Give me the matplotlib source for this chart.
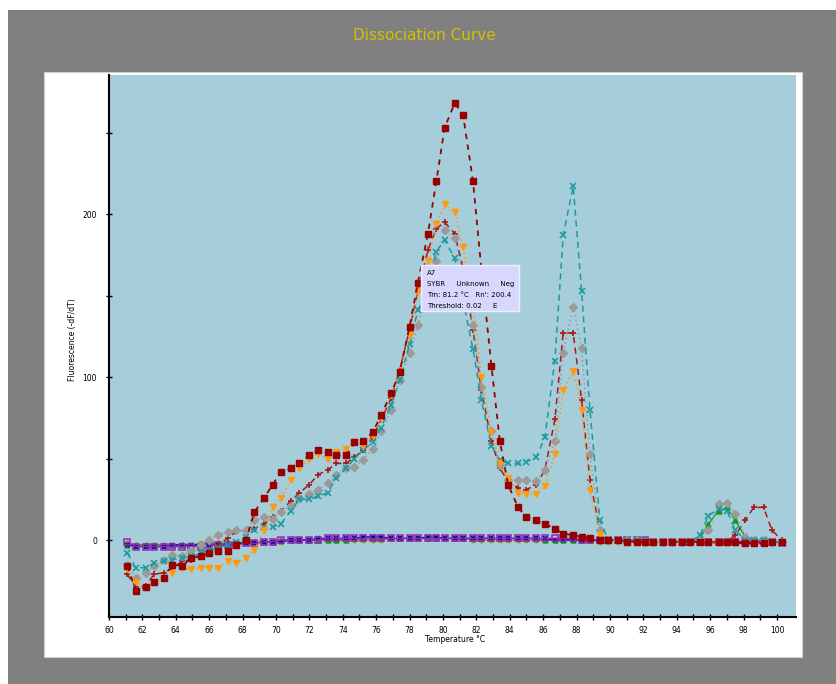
import matplotlib
matplotlib.use("Agg")
import matplotlib.pyplot as plt
from matplotlib.patches import Rectangle

# melt temperatures (deg C), one reading per step
temps = [61.1, 61.6, 62.2, 62.7, 63.3, 63.8, 64.4, 64.9, 65.5, 66.0,
         66.5, 67.1, 67.6, 68.2, 68.7, 69.3, 69.8, 70.3, 70.9, 71.4,
         72.0, 72.5, 73.1, 73.6, 74.2, 74.7, 75.2, 75.8, 76.3, 76.9,
         77.4, 78.0, 78.5, 79.1, 79.6, 80.1, 80.7, 81.2, 81.8, 82.3,
         82.9, 83.4, 83.9, 84.5, 85.0, 85.6, 86.1, 86.7, 87.2, 87.8,
         88.3, 88.8, 89.4, 89.9, 90.5, 91.0, 91.6, 92.1, 92.6, 93.2,
         93.7, 94.3, 94.8, 95.4, 95.9, 96.5, 97.0, 97.5, 98.1, 98.6,
         99.2, 99.7, 100.3]

well_a = [-16, -31, -29, -26, -23, -15, -16, -11, -10, -8,
          -7, -7, -3, 0, 17, 26, 34, 42, 44, 47,
          52, 55, 54, 52, 52, 60, 61, 66, 77, 90,
          103, 131, 158, 188, 220, 253, 268, 261, 220, 166,
          107, 61, 34, 20, 14, 12, 10, 7, 4, 3,
          2, 1, 0, 0, 0, -1, -1, -1, -1, -1,
          -1, -1, -1, -1, -1, -1, -1, -1, -2, -2,
          -2, -1, -1]

well_b = [-18, -26, -29, -26, -23, -20, -17, -18, -17, -17,
          -17, -13, -14, -11, -6, 6, 20, 26, 37, 44,
          50, 53, 50, 54, 56, 60, 58, 64, 75, 89,
          103, 126, 153, 171, 194, 206, 201, 180, 147, 100,
          66, 47, 38, 29, 28, 28, 33, 53, 92, 104,
          80, 31, 3, 0, -1, -1, -1, -1, -1, -1,
          -1, -1, -1, -1, -1, -1, -1, -2, -2, -2,
          -2, -1, -1]

well_c = [-15, -23, -20, -16, -12, -9, -10, -6, -3, 0,
          3, 5, 6, 6, 12, 14, 13, 17, 21, 26,
          28, 31, 35, 40, 44, 45, 49, 56, 67, 80,
          98, 115, 132, 153, 171, 190, 185, 163, 132, 94,
          67, 46, 37, 37, 37, 36, 43, 61, 115, 143,
          118, 53, 6, 0, 0, 0, 0, -1, -1, -1,
          -1, -1, -1, 0, 6, 22, 23, 16, 2, 0,
          0, -1, -1]

well_d = [-8, -17, -17, -14, -13, -12, -11, -10, -8, -6,
          -5, -3, -1, 2, 6, 8, 8, 10, 18, 25,
          25, 27, 29, 38, 44, 50, 55, 60, 69, 83,
          98, 120, 141, 156, 177, 184, 173, 147, 117, 86,
          58, 49, 47, 47, 48, 51, 63, 110, 187, 217,
          153, 80, 12, 0, 0, 0, 0, 0, -1, -1,
          -1, -1, -1, 3, 15, 19, 18, 6, 0, 0,
          0, -1, -1]

well_e = [-21, -29, -28, -21, -20, -17, -13, -12, -9, -6,
          -3, 1, 5, 6, 7, 10, 14, 18, 24, 29,
          34, 40, 43, 47, 47, 51, 55, 63, 74, 87,
          104, 129, 153, 178, 191, 195, 188, 167, 129, 92,
          61, 44, 36, 32, 31, 34, 43, 74, 127, 127,
          86, 37, 6, 0, 0, 0, 0, -1, -1, -1,
          -1, -1, -1, -1, -1, -1, -1, 3, 12, 20,
          20, 6, 0]

# negative / no template wells, flat along the baseline
well_p = [-1, -4, -4, -4, -4, -4, -4, -4, -4, -3,
          -3, -3, -3, -2, -2, -1, -1, 0, 0, 0,
          0, 0, 1, 1, 1, 1, 1, 1, 1, 1,
          1, 1, 1, 1, 1, 1, 1, 1, 1, 1,
          1, 1, 1, 1, 1, 1, 1, 1, 1, 1,
          0, 0, 0, 0, 0, 0, 0, 0, -1, -1,
          -1, -1, -1, -1, -1, -1, -1, -1, -1, -1,
          -1, -1, -2]

well_n = [-3, -4, -4, -4, -4, -3, -3, -3, -3, -3,
          -3, -3, -2, -2, -2, -1, -1, -1, 0, 0,
          0, 1, 1, 1, 1, 1, 2, 2, 2, 1,
          1, 1, 1, 2, 2, 1, 1, 1, 1, 1,
          1, 1, 1, 1, 1, 1, 1, 0, 0, 0,
          0, 0, 0, 0, 0, 0, -1, -1, -1, -1,
          -1, -1, -1, -1, -1, -1, -2, -2, -2, -1,
          -1, -1, -1]

well_g = [-3, -3, -3, -3, -3, -3, -3, -3, -3, -2,
          -2, -2, -2, -1, -1, -1, -1, 0, 0, 0,
          0, 0, 0, 0, 0, 1, 1, 1, 1, 1,
          1, 1, 1, 1, 1, 1, 1, 1, 1, 1,
          1, 1, 1, 1, 1, 1, 0, 0, 0, 0,
          0, 0, 0, 0, 0, 0, 0, -1, -1, -1,
          -1, -1, -1, 1, 10, 18, 20, 12, 2, 0,
          -1, -1, -1]

well_o = [-2, -3, -3, -3, -3, -3, -3, -3, -2, -2,
          -2, -2, -2, -2, -1, -1, -1, -1, 0, 0,
          0, 0, 0, 0, 0, 0, 0, 0, 0, 1,
          1, 1, 1, 1, 1, 1, 1, 1, 0, 0,
          0, 0, 0, 0, 0, 0, 0, 0, 0, 0,
          0, 0, -1, -1, -1, -1, -1, -1, -1, -1,
          -1, -1, -1, -1, -2, -2, -2, -2, -2, -2,
          -1, -1, -1]

xticks = list(range(60, 101, 2))
yticks = [0, 100, 200]

fig = plt.figure(figsize=(8.37, 6.84), dpi=100, facecolor="white")

# grey window frame and white chart panel
fig.patches.append(Rectangle((8 / 837, 0), 1, 1 - 10 / 684, transform=fig.transFigure,
                             facecolor="#808080", edgecolor="none", zorder=-10))
fig.patches.append(Rectangle((44 / 837, 27 / 684), 758 / 837, 585 / 684, transform=fig.transFigure,
                             facecolor="white", edgecolor="#d0d0d0", lw=0.8, zorder=-9))

ax = fig.add_axes([109 / 837, 67 / 684, 687 / 837, 542 / 684])
ax.set_facecolor("#a6cdda")

flat = [
    (well_o, "#9a9a00", "o", 3),
    (well_g, "#119911", "^", 3.5),
    (well_n, "#000099", "x", 3.5),
    (well_p, "#9922bb", "s", 4),
]
for vals, col, mk, ms in flat:
    ax.plot(temps, vals, color=col, lw=0.9, marker=mk, ms=ms,
            mfc="none" if mk == "s" else col, mew=1.1)

ax.plot(temps, well_e, color="#a81818", lw=1.1, ls=(0, (4, 3)), marker="+", ms=5, mew=1.2)
ax.plot(temps, well_c, color="#9a9a9a", lw=1.1, ls=(0, (1, 2)), marker="D", ms=4.5)
ax.plot(temps, well_d, color="#1e9a9e", lw=1.1, ls=(0, (4, 3)), marker="x", ms=4, mew=1.2)
ax.plot(temps, well_b, color="#ff9a10", lw=1.1, ls=(0, (1, 2)), marker="v", ms=5)
ax.plot(temps, well_a, color="#990000", lw=1.3, ls=(0, (3, 3)), marker="s", ms=5)

ax.set_xlim(60, 101.14)
ax.set_ylim(-47.2, 285.3)
ax.set_xticks(xticks)
ax.set_xticks(range(60, 101), minor=True)
ax.set_yticks(yticks)
ax.set_yticks([50, 150, 250], minor=True)
ax.tick_params(axis="both", which="both", direction="inout", length=5, width=1, labelsize=5.5)
ax.tick_params(axis="x", pad=4)
ax.tick_params(axis="y", pad=6)
for side in ["top", "right"]:
    ax.spines[side].set_visible(False)
for side in ["left", "bottom"]:
    ax.spines[side].set_linewidth(1.5)

fig.text(424 / 837, 1 - 36 / 684, "Dissociation Curve", color="#d4c000",
         fontsize=11, ha="center", va="center")
fig.text(455 / 837, 1 - 640 / 684, "Temperature \u00b0C", fontsize=5.5,
         ha="center", va="center")
fig.text(72 / 837, 1 - 340 / 684, "Fluorescence (-dF/dT)", fontsize=5.5,
         rotation=90, ha="center", va="center")

# hover box from the instrument software
fig.patches.append(Rectangle((421 / 837, 1 - 311 / 684), 98 / 837, 46 / 684,
                             transform=fig.transFigure, facecolor="#d8d8ff",
                             edgecolor="#eeeeff", lw=1, zorder=5))
tip = ["A7", "SYBR     Unknown     Neg", "Tm: 81.2 \u00b0C   Rn': 200.4", "Threshold: 0.02     E"]
for k, line in enumerate(tip):
    fig.text(427 / 837, 1 - (273 + k * 11) / 684, line, fontsize=5,
             ha="left", va="center", zorder=6)

fig.savefig("out.png", dpi=100, facecolor=fig.get_facecolor())
